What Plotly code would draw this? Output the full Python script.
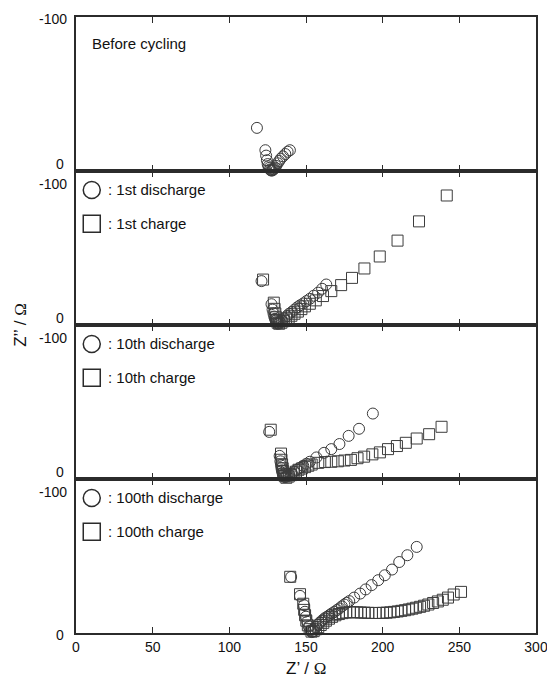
import plotly.graph_objects as go
from plotly.subplots import make_subplots

# ---------------- data ----------------
x_before = [118, 123.5, 124, 124.5, 125, 125.5, 126, 126.5, 127, 127.5, 128, 128.4, 128.8, 129.3, 129.8, 130.5, 131.5, 132.5, 133.5, 135, 136.5, 138, 139.5]
y_before = [-28, -13.5, -10, -7, -4.5, -3, -2, -1, -0.5, -0.3, -0.4, -0.7, -1.1, -1.6, -2.2, -3.3, -5, -6.5, -8, -9.5, -11, -12.5, -13.5]

x_1d = [121, 127.5, 128.2, 128.8, 129.3, 129.8, 130.3, 130.8, 131.3, 132, 133, 134.3, 135.8, 137.5, 139, 140.8, 142.5, 144.3, 146.2, 148.2, 150.3, 152.5, 155, 157.9, 160.5, 163.2]
y_1d = [-28.5, -13.5, -10, -7.5, -5.5, -4, -2.8, -1.8, -1, -0.8, -1.8, -3, -4.3, -5.8, -7.3, -8.5, -10, -11.5, -12.8, -14, -15.5, -17, -19, -21, -23.5, -26.3]

x_1c = [122, 129, 129.5, 130, 130.5, 131, 131.5, 132.5, 134, 135.5, 137, 138.7, 140.5, 142.5, 144.7, 147, 149.3, 152.5, 156.4, 161.1, 166.5, 172.9, 180, 188.1, 198.1, 209.7, 223.7, 241.8]
y_1c = [-29.5, -14.5, -10.5, -7.5, -5, -3, -1.5, -0.8, -1.5, -2.5, -3.5, -4.7, -6, -7.3, -8.7, -10.3, -12.1, -13.8, -16, -18.8, -22, -25.9, -30.6, -36.7, -44.5, -54.8, -67.3, -84.1]

x_10d = [126, 132.8, 133.3, 133.7, 134, 134.3, 134.7, 135, 135.5, 136.3, 137.5, 139, 140.8, 142.3, 144, 146, 148.2, 150.3, 152.5, 156.8, 161.8, 166.5, 171.8, 177.8, 184.6, 193.6]
y_10d = [-30.6, -15, -11.5, -9, -7, -5.5, -4, -2.8, -1.8, -1.2, -1.8, -2.6, -3.6, -4.8, -6, -7.2, -8.6, -9.9, -11.2, -14, -17, -19.4, -22.7, -28, -32.6, -42.5]

x_10c = [127, 133.7, 134, 134.4, 134.8, 135.2, 135.6, 136.2, 137.2, 138.7, 140.3, 141.9, 143.5, 145.1, 147.2, 149.4, 151.5, 153.7, 158, 162.3, 166.5, 170.8, 175.1, 179.3, 183.6, 187.9, 193.3, 198.2, 203.5, 209.3, 215.1, 222.2, 230.3, 238.4]
y_10c = [-32, -16.5, -12.5, -9.5, -7, -5, -3.3, -1.8, -0.8, -1.6, -2.5, -3.5, -4.8, -6, -6.8, -7.7, -8.6, -9.4, -10.5, -11, -11.2, -11.5, -12, -12.4, -13.5, -14.5, -16, -17.3, -19.4, -21.4, -23.5, -26.3, -29.1, -33.9]

x_100d = [140.3, 146.1, 148.7, 149.3, 150, 150.8, 151.9, 153, 153.8, 154.7, 155.5, 156.4, 157.7, 159, 160.6, 162.2, 163.8, 165.4, 167, 168.6, 170.2, 171.8, 173.4, 175, 176.6, 178.2, 181.4, 185.3, 188.9, 192.8, 197.1, 201.4, 206.1, 210.8, 216.1, 222.2]
y_100d = [-36.4, -24.1, -18.1, -13.8, -10.6, -7.3, -4.3, -1.7, -0.6, -1.2, -2.6, -4.0, -5.5, -6.8, -8.2, -9.6, -10.6, -11.7, -12.8, -13.8, -14.9, -16, -17.3, -18.5, -19.6, -20.7, -23, -25.6, -28.3, -31.1, -34.3, -37.5, -41.2, -46.1, -50.5, -55.9]

x_100c = [139.7, 146.1, 148.2, 148.8, 149.4, 150.2, 151.2, 152.4, 153.6, 155, 156.5, 158, 159.6, 161.3, 163, 165, 167, 169.2, 171.5, 173.8, 176.2, 178.6, 181, 183.4, 185.8, 188.2, 190.6, 193, 195.4, 197.8, 200.2, 202.6, 205, 207.4, 209.8, 212.2, 214.6, 217, 219.4, 221.8, 224.4, 227, 229.8, 232.9, 236, 239.2, 242.6, 246.3, 251.1]
y_100c = [-36.5, -25.2, -19, -15, -11.5, -8, -5, -2.5, -0.9, -1.2, -2.4, -3.8, -5.2, -6.6, -8, -9.3, -10.5, -11.5, -12.3, -12.9, -13.3, -13.5, -13.5, -13.4, -13.3, -13.2, -13.1, -13, -13, -13, -13.1, -13.2, -13.4, -13.7, -14, -14.4, -14.8, -15.3, -15.8, -16.4, -17, -17.7, -18.5, -19.5, -20.5, -21.6, -23, -25, -26.7]

x_ticks = [0, 50, 100, 150, 200, 250, 300]
panel_titles = ["Before cycling", None, None, None]
legend_labels = [None,
                 (": 1st discharge", ": 1st charge"),
                 (": 10th discharge", ": 10th charge"),
                 (": 100th discharge", ": 100th charge")]

# ---------------- figure ----------------
OFF = 8  # default page (body) margin of the browser
W, H = 555 - OFF, 687 - OFF
L, R, T, B = 76, 543, 15, 633   # plot area in page pixels
FONT = "Liberation Sans, Arial, sans-serif"
INK = "#2b2b2b"
MK = "#3c3c3c"

def px_x(px):
    return (px - L) / (R - L)

def px_y(py):
    return (B - py) / (B - T)

fig = make_subplots(rows=4, cols=1, shared_xaxes=True, vertical_spacing=0)

def add(xs, ys, sym, row):
    fig.add_trace(go.Scatter(x=xs, y=ys, mode="markers", cliponaxis=False,
                             marker=dict(symbol=sym, size=11, color=MK,
                                         line=dict(width=1, color=MK))),
                  row=row, col=1)

add(x_before, y_before, "circle-open", 1)
add(x_1c, y_1c, "square-open", 2)
add(x_1d, y_1d, "circle-open", 2)
add(x_10c, y_10c, "square-open", 3)
add(x_10d, y_10d, "circle-open", 3)
add(x_100c, y_100c, "square-open", 4)
add(x_100d, y_100d, "circle-open", 4)

for r in range(1, 5):
    fig.update_xaxes(range=[0, 300], tickvals=x_ticks, ticks="inside", ticklen=6,
                     tickwidth=1, tickcolor=INK, showline=True, linecolor=INK,
                     linewidth=1.5, mirror="ticks", showgrid=False, zeroline=False,
                     showticklabels=(r == 4),
                     tickfont=dict(family=FONT, size=14, color="#111"),
                     row=r, col=1)
    fig.update_yaxes(range=[0, -100], showticklabels=False, ticks="",
                     showline=True, linecolor=INK, linewidth=1.5, mirror=True,
                     showgrid=False, zeroline=False, row=r, col=1)

annotations = []
shapes = []
panel_h = (B - T) / 4
for i in range(4):
    top = T + i * panel_h
    bot = top + panel_h
    y_top_shift = -2 if i == 0 else -13
    y_bot_shift = -2 if i == 3 else 7
    annotations.append(dict(text="-100", xref="paper", yref="paper", x=0,
                            y=px_y(top), xanchor="right", yanchor="middle",
                            xshift=-7, yshift=y_top_shift, showarrow=False,
                            font=dict(family=FONT, size=14, color="#111")))
    annotations.append(dict(text="0", xref="paper", yref="paper", x=0,
                            y=px_y(bot), xanchor="right", yanchor="middle",
                            xshift=-10, yshift=y_bot_shift, showarrow=False,
                            font=dict(family=FONT, size=14, color="#111")))
    if panel_titles[i]:
        annotations.append(dict(text=panel_titles[i], xref="paper", yref="paper",
                                x=px_x(90), y=px_y(top + 27), xanchor="left",
                                yanchor="middle", showarrow=False,
                                font=dict(family=FONT, size=15, color="#111")))
    if legend_labels[i]:
        for j, (lab, sym) in enumerate(zip(legend_labels[i], ["circle", "rect"])):
            cy = top + 19 + 34 * j
            annotations.append(dict(text=lab, xref="paper", yref="paper",
                                    x=px_x(106), y=px_y(cy), xanchor="left",
                                    yanchor="middle", showarrow=False,
                                    font=dict(family=FONT, size=15, color="#111")))
            hs = 8.5
            shapes.append(dict(type=sym, xref="paper", yref="paper",
                               xsizemode="pixel", ysizemode="pixel",
                               xanchor=px_x(92), yanchor=px_y(cy),
                               x0=-hs, x1=hs, y0=-hs, y1=hs,
                               line=dict(color=INK, width=1.5)))

annotations.append(dict(text="Z’ / <span style='font-family:Liberation Serif, Times New Roman, serif'>Ω</span>",
                        xref="paper", yref="paper", x=0.5, y=px_y(669),
                        xanchor="center", yanchor="middle", showarrow=False,
                        font=dict(family=FONT, size=17, color="#111")))
annotations.append(dict(text="Z’’ / <span style='font-family:Liberation Serif, Times New Roman, serif'>Ω</span>",
                        xref="paper", yref="paper", x=px_x(19), y=0.5,
                        xanchor="center", yanchor="middle", textangle=-90,
                        showarrow=False,
                        font=dict(family=FONT, size=17, color="#111")))

fig.update_layout(width=W, height=H,
                  margin=dict(l=L - OFF, r=W - (R - OFF), t=T - OFF,
                              b=H - (B - OFF)),
                  paper_bgcolor="white", plot_bgcolor="white",
                  showlegend=False, annotations=annotations, shapes=shapes)

fig.write_html("out.html")
